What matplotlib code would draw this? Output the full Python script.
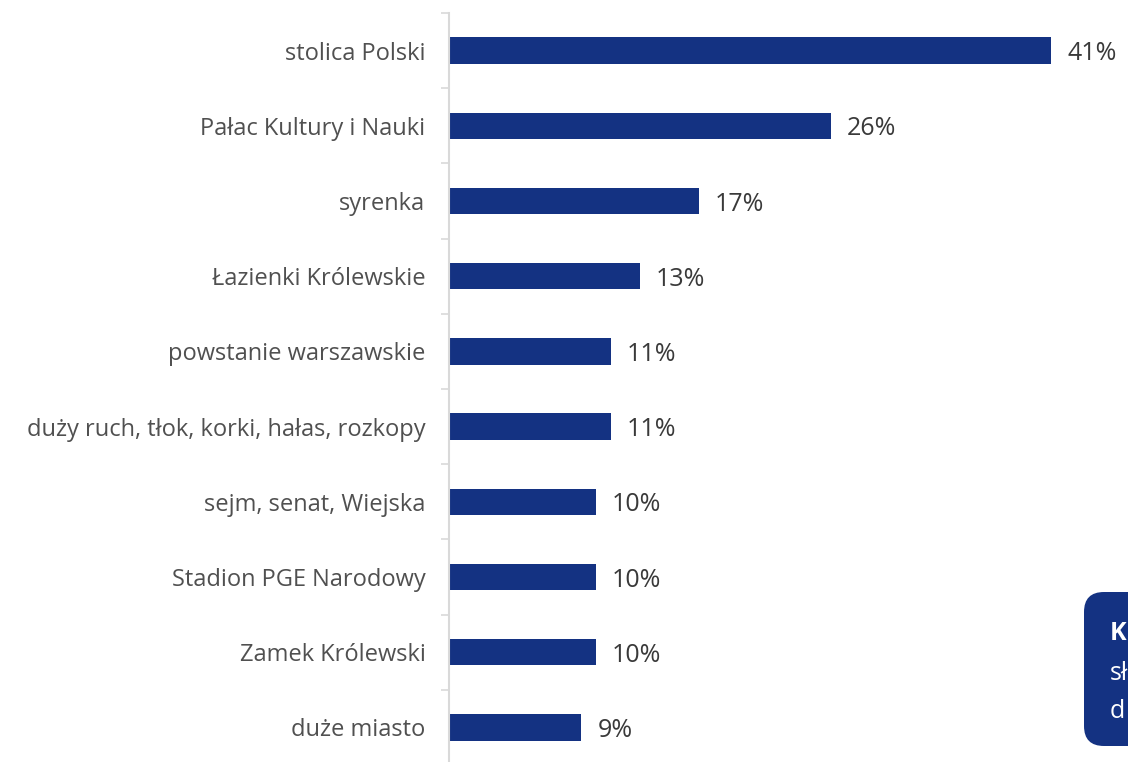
import matplotlib.pyplot as plt
from matplotlib.patches import FancyBboxPatch

plt.rcParams['font.family'] = ['Open Sans', 'DejaVu Sans']

categories = ["stolica Polski", "Pałac Kultury i Nauki", "syrenka",
              "Łazienki Królewskie", "powstanie warszawskie",
              "duży ruch, tłok, korki, hałas, rozkopy", "sejm, senat, Wiejska",
              "Stadion PGE Narodowy", "Zamek Królewski", "duże miasto"]
values = [41, 26, 17, 13, 11, 11, 10, 10, 10, 9]
box_lines = ["K", "sł", "d"]

bar_color = "#143282"
text_color = "#505050"

fig = plt.figure(figsize=(11.28, 7.62), dpi=100)
ax = fig.add_axes([449 / 1128, -3 / 762, 679 / 1128, 752 / 762])

pos = list(range(len(categories)))
ax.barh(pos, values, height=0.35, color=bar_color)
for p, v in zip(pos, values):
    ax.text(v + 1.1, p + 0.04, f"{v}%", va="center", ha="left", fontsize=18, color="#3a3a3a")

ax.set_xlim(0, 679 / (602 / 41))
ax.set_ylim(len(categories) - 0.5, -0.5)

ax.set_yticks(pos)
ax.set_yticklabels(categories, fontsize=17, color=text_color)
ax.tick_params(axis="y", which="major", length=0, pad=17)
ax.set_yticks([p - 0.5 for p in pos] + [len(pos) - 0.5], minor=True)
ax.tick_params(axis="y", which="minor", length=6, width=1.2, color="#d9d9d9")
ax.set_xticks([])
for s in ["top", "right", "bottom"]:
    ax.spines[s].set_visible(False)
ax.spines["left"].set_color("#d9d9d9")
ax.spines["left"].set_linewidth(1.5)

# text box in the bottom-right corner (cut off by the figure edge)
ov = fig.add_axes([0, 0, 1, 1], zorder=5)
ov.set_xlim(0, 1128)
ov.set_ylim(762, 0)
ov.axis("off")
ov.add_patch(FancyBboxPatch((1084 + 20, 592 + 20), 200, 154 - 40,
                            boxstyle="round,pad=20,rounding_size=20",
                            facecolor=bar_color, edgecolor="none"))
ov.text(1110, 633, box_lines[0], color="white", fontsize=18, fontweight="bold", va="center")
ov.text(1110, 673, box_lines[1], color="white", fontsize=18, va="center")
ov.text(1110, 712, box_lines[2], color="white", fontsize=18, va="center")

plt.savefig("out.png", dpi=100)
